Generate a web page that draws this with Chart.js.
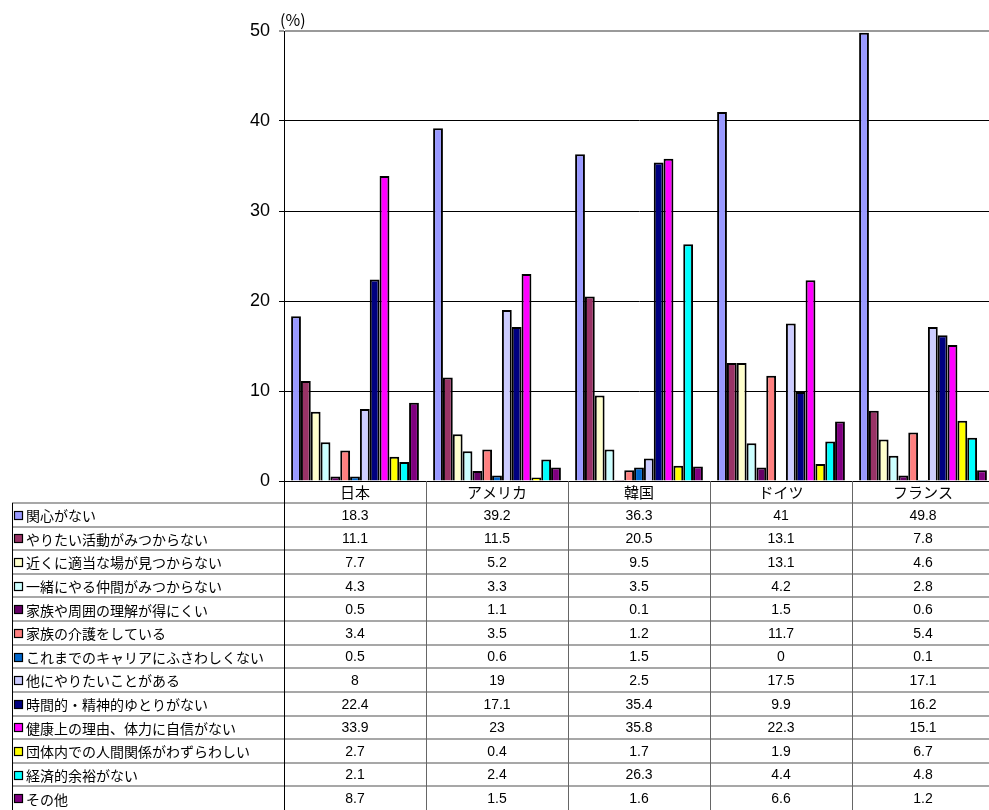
<!DOCTYPE html>
<html lang="ja">
<head>
<meta charset="utf-8">
<title>活動に参加しない理由</title>
<script src="https://cdn.jsdelivr.net/npm/chart.js@4/dist/chart.umd.min.js"></script>
<style>
  html, body { margin: 0; padding: 0; background: #fff; overflow: hidden; }
  #contenedor { width: 994px; height: 810px; }
</style>
</head>
<body>
<div id="contenedor"><canvas id="grafica" width="994" height="810"></canvas></div>
<script>
// Países (categorías del eje X)
const paises = ['日本', 'アメリカ', '韓国', 'ドイツ', 'フランス'];

// Motivos (una serie por motivo)
const motivos = [
    '関心がない',
    'やりたい活動がみつからない',
    '近くに適当な場が見つからない',
    '一緒にやる仲間がみつからない',
    '家族や周囲の理解が得にくい',
    '家族の介護をしている',
    'これまでのキャリアにふさわしくない',
    '他にやりたいことがある',
    '時間的・精神的ゆとりがない',
    '健康上の理由、体力に自信がない',
    '団体内での人間関係がわずらわしい',
    '経済的余裕がない',
    'その他'
];

// Valores en % por país
const kanshinGaNai = [18.3, 39.2, 36.3, 41, 49.8];
const katsudouNai = [11.1, 11.5, 20.5, 13.1, 7.8];
const tekitouNaBaNai = [7.7, 5.2, 9.5, 13.1, 4.6];
const nakamaNai = [4.3, 3.3, 3.5, 4.2, 2.8];
const kazokuRikai = [0.5, 1.1, 0.1, 1.5, 0.6];
const kaigo = [3.4, 3.5, 1.2, 11.7, 5.4];
const career = [0.5, 0.6, 1.5, 0, 0.1];
const hokaNiAru = [8, 19, 2.5, 17.5, 17.1];
const yutoriNai = [22.4, 17.1, 35.4, 9.9, 16.2];
const kenkou = [33.9, 23, 35.8, 22.3, 15.1];
const ningenKankei = [2.7, 0.4, 1.7, 1.9, 6.7];
const keizaiteki = [2.1, 2.4, 26.3, 4.4, 4.8];
const sonota = [8.7, 1.5, 1.6, 6.6, 1.2];

const valores = [kanshinGaNai, katsudouNai, tekitouNaBaNai, nakamaNai, kazokuRikai, kaigo,
    career, hokaNiAru, yutoriNai, kenkou, ningenKankei, keizaiteki, sonota];

// Marcas del eje Y
const ticksY = [0, 10, 20, 30, 40, 50];

const colores = ['#9999FF', '#993366', '#FFFFCC', '#CCFFFF', '#660066', '#FF8080', '#0066CC',
    '#CCCCFF', '#000080', '#FF00FF', '#FFFF00', '#00FFFF', '#800080'];

const fuenteJP = '"Noto Sans CJK JP", sans-serif';
const fuenteNum = '"Liberation Sans", Arial, sans-serif';

// Tabla de datos debajo del gráfico, alineada con las columnas del eje X
const tablaDatos = {
    id: 'tablaDatos',
    afterDraw(chart) {
        const ctx = chart.ctx;
        const ejeX = chart.scales.x;
        const area = chart.chartArea;
        const alto = chart.height;
        const izq = 12;
        const inicio = 503;
        const altoFila = (alto - inicio) / motivos.length;
        const anchoCol = (area.right - area.left) / paises.length;

        function linea(x1, y1, x2, y2) {
            ctx.beginPath();
            ctx.moveTo(x1, y1);
            ctx.lineTo(x2, y2);
            ctx.stroke();
        }

        ctx.save();

        // Líneas horizontales entre filas
        ctx.strokeStyle = '#8a8a8a';
        ctx.lineWidth = 1.5;
        for (let i = 0; i < motivos.length; i++) {
            const y = Math.round(inicio + i * altoFila);
            linea(izq, y, area.right, y);
        }

        // Líneas verticales
        ctx.lineWidth = 1;
        ctx.strokeStyle = '#000';
        linea(izq + 0.5, inicio, izq + 0.5, alto);
        linea(area.left + 0.5, area.bottom, area.left + 0.5, alto);
        ctx.strokeStyle = '#666';
        paises.forEach((p, j) => {
            const x = Math.round(ejeX.getPixelForValue(j) + anchoCol / 2) + 0.5;
            linea(x, area.bottom, x, alto);
        });

        // Etiquetas de las filas con su marca de color
        ctx.textBaseline = 'middle';
        motivos.forEach((m, i) => {
            const yc = inicio + i * altoFila + altoFila / 2 + 1;
            ctx.fillStyle = colores[i];
            ctx.fillRect(14.5, Math.round(yc) - 4.5, 8, 8);
            ctx.strokeStyle = '#000';
            ctx.lineWidth = 1.2;
            ctx.strokeRect(14.5, Math.round(yc) - 4.5, 8, 8);
            ctx.fillStyle = '#000';
            ctx.textAlign = 'left';
            ctx.font = '14px ' + fuenteJP;
            ctx.fillText(m, 26, yc);

            // Valores de cada país
            ctx.textAlign = 'center';
            ctx.font = '14px ' + fuenteNum;
            valores[i].forEach((v, j) => {
                ctx.fillText(String(v), ejeX.getPixelForValue(j), yc);
            });
        });

        // Unidad del eje Y
        ctx.textAlign = 'left';
        ctx.textBaseline = 'alphabetic';
        ctx.font = '16px ' + fuenteJP;
        ctx.fillText('(%)', area.left - 4, 26);

        ctx.restore();
    }
};

const ctx = document.getElementById('grafica').getContext('2d');

new Chart(ctx, {
    type: 'bar',
    data: {
        labels: paises,
        datasets: motivos.map((m, i) => ({
            label: m,
            data: valores[i],
            backgroundColor: colores[i],
            borderColor: '#000',
            borderWidth: 2,
            categoryPercentage: 0.9,
            barPercentage: 1.0
        }))
    },
    options: {
        responsive: false,
        animation: false,
        devicePixelRatio: 1,
        layout: { padding: { top: 31, left: 0, right: 0, bottom: 0 } },
        plugins: {
            legend: { display: false },
            tooltip: { enabled: false }
        },
        scales: {
            x: {
                grid: { display: false, drawTicks: false },
                border: { display: true, color: '#000', width: 1 },
                ticks: {
                    color: '#000',
                    font: { family: fuenteJP, size: 15 },
                    padding: 2,
                    maxRotation: 0
                },
                afterFit(scale) { scale.height = 329; }
            },
            y: {
                min: 0,
                max: 50,
                afterBuildTicks(scale) { scale.ticks = ticksY.map(v => ({ value: v })); },
                grid: {
                    color: c => (c.tick && c.tick.value === 50 ? '#9a9a9a' : '#000'),
                    lineWidth: c => (c.tick && c.tick.value === 50 ? 2 : 1),
                    tickLength: 5,
                    drawTicks: true
                },
                border: { display: true, color: '#000', width: 1 },
                ticks: {
                    color: '#000',
                    font: { family: fuenteNum, size: 18 },
                    padding: 9
                },
                afterFit(scale) { scale.width = 284; }
            }
        }
    },
    plugins: [tablaDatos]
});
</script>
</body>
</html>
